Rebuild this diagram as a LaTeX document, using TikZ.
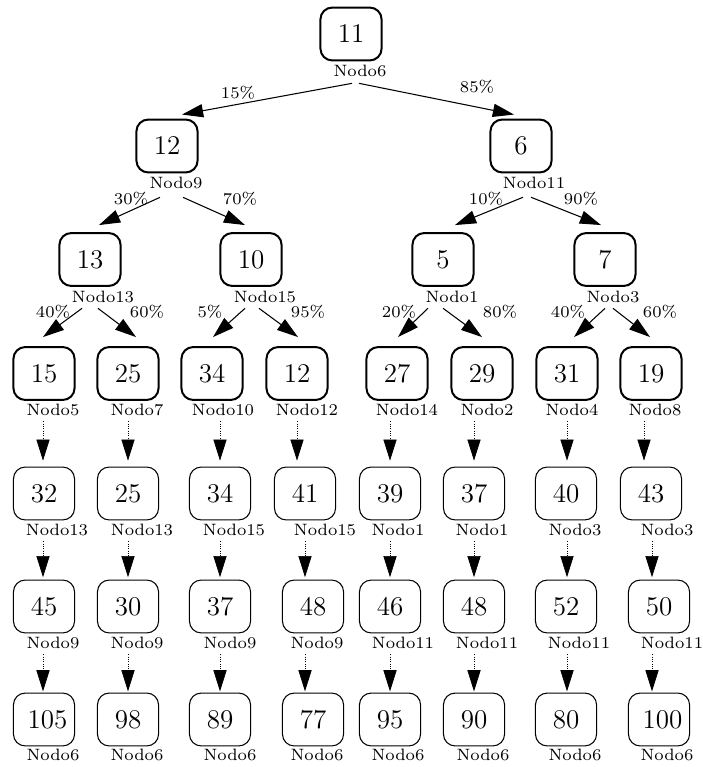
\documentclass[tikz,border=0pt]{standalone}
\usetikzlibrary{arrows.meta,calc}
\newcommand{\numfont}{\fontsize{11.5}{13}\selectfont}
\begin{document}
\begin{tikzpicture}[x=0.4255pt,y=-0.4255pt,
  bigbox/.style={draw, line width=0.85pt, rounded corners=5pt, minimum width=26pt, minimum height=22.5pt, inner sep=0pt, font=\numfont},
  smallbox/.style={bigbox, line width=0.45pt},
  lab/.style={font=\scriptsize, inner sep=0pt},
  pct/.style={font=\scriptsize, inner sep=0pt},
  arr/.style={-{Triangle[length=9pt,width=5.6pt]}, line width=0.45pt},
  darr/.style={arr, line width=0.3pt, dash pattern=on 0.3pt off 0.7pt}]
\useasboundingbox (0,0) rectangle (702,767);
% row 0
\node[bigbox] (n0) at (351,34) {11};
\node[lab] (l0) at (360,71) {Nodo6};
% row 1
\node[bigbox] (n1a) at (167,146) {12};
\node[lab] (l1a) at (176,183) {Nodo9};
\node[bigbox] (n1b) at (521,146) {6\hspace{4pt}};
\node[lab] (l1b) at (534,183) {Nodo11};
% row 2
\node[bigbox] (n2a) at (90,259.5) {13};
\node[lab] (l2a) at (103,297) {Nodo13};
\node[bigbox] (n2b) at (251,259.5) {10};
\node[lab] (l2b) at (265,297) {Nodo15};
\node[bigbox] (n2c) at (443,259.5) {5\hspace{4pt}};
\node[lab] (l2c) at (452,297) {Nodo1};
\node[bigbox] (n2d) at (605,259.5) {7\hspace{4pt}};
\node[lab] (l2d) at (613,297) {Nodo3};
% row 3
\foreach \c/\x/\t/\lx/\lt in {a/44/15/53/Nodo5, b/128/25/137/Nodo7, c/212/34/223/Nodo10, d/297/12/307/Nodo12,
  e/397/27/407/Nodo14, f/482/29/487/Nodo2, g/567/31/572/Nodo4, h/651/19/655/Nodo8} {
  \node[bigbox] (n3\c) at (\x,373.5) {\t};
  \node[lab] (l3\c) at (\lx,410) {\lt};
}
% row 4
\foreach \c/\x/\t/\lx/\lt in {a/44/32/57/Nodo13, b/128/25/142/Nodo13, c/220/34/234/Nodo15, d/305/41/325/Nodo15,
  e/390/39/398/Nodo1, f/474/37/482/Nodo1, g/566/40/575/Nodo3, h/651/43/667/Nodo3} {
  \node[smallbox] (n4\c) at (\x,493.5) {\t};
  \node[lab] (l4\c) at (\lx,530) {\lt};
}
% row 5
\foreach \c/\x/\t/\lx/\lt in {a/44/45/53/Nodo9, b/128/30/137/Nodo9, c/220/37/230/Nodo9, d/313/48/317/Nodo9,
  e/390/46/403/Nodo11, f/474/48/487/Nodo11, g/566/52/579/Nodo11, h/659/50/672/Nodo11} {
  \node[smallbox] (n5\c) at (\x,606.5) {\t};
  \node[lab] (l5\c) at (\lx,643) {\lt};
}
% row 6
\foreach \c/\x/\t/\lx in {a/44/\hspace{3pt}105/53, b/128/98/137, c/220/89/230, d/313/77/317,
  e/390/95/398, f/474/90/483, g/566/80/575, h/659/\hspace{3pt}100/667} {
  \node[smallbox] (n6\c) at (\x,719.5) {\t};
  \node[lab] (l6\c) at (\lx,755) {Nodo6};
}
% solid arrows
\draw[arr] ($(l0.south)+(-8,6)$) -- ($(n1a.north)+(15,-4)$);
\draw[arr] ($(l0.south)+(-1,6)$) -- ($(n1b.north)+(-7,-4)$);
\draw[arr] ($(l1a.south)+(-16,8)$) -- ($(n2a.north)+(9,-7)$);
\draw[arr] ($(l1a.south)+(7,8)$) -- ($(n2b.north)+(-6,-7)$);
\draw[arr] ($(l1b.south)+(-11,8)$) -- ($(n2c.north)+(12,-7)$);
\draw[arr] ($(l1b.south)+(-3,8)$) -- ($(n2d.north)+(-4,-7)$);
\draw[arr] ($(l2a.south)+(-21,5)$) -- ($(n3a.north)+(-1,-9)$);
\draw[arr] ($(l2a.south)+(-5,5)$) -- ($(n3b.north)+(8,-9)$);
\draw[arr] ($(l2b.south)+(-20,5)$) -- ($(n3c.north)+(1,-9)$);
\draw[arr] ($(l2b.south)+(-6,5)$) -- ($(n3d.north)+(1,-9)$);
\draw[arr] ($(l2c.south)+(-24,5)$) -- ($(n3e.north)+(1,-9)$);
\draw[arr] ($(l2c.south)+(-9,5)$) -- ($(n3f.north)+(0,-9)$);
\draw[arr] ($(l2d.south)+(-8,5)$) -- ($(n3g.north)+(7,-9)$);
\draw[arr] ($(l2d.south)+(0,5)$) -- ($(n3h.north)+(-1,-9)$);
% percentages
\node[pct] (p0a) at (238,93) {15\%};
\node[pct] (p0b) at (477,87) {85\%};
\node[pct] (p1a) at (131,199) {30\%};
\node[pct] (p1b) at (240,199) {70\%};
\node[pct] (p1c) at (486,199) {10\%};
\node[pct] (p1d) at (581,199) {90\%};
\node[pct] (p2a) at (53,312) {40\%};
\node[pct] (p2b) at (147,312) {60\%};
\node[pct] (p2c) at (210,312) {5\%};
\node[pct] (p2d) at (308,312) {95\%};
\node[pct] (p2e) at (399,312) {20\%};
\node[pct] (p2f) at (500,312) {80\%};
\node[pct] (p2g) at (568,312) {40\%};
\node[pct] (p2h) at (660,312) {60\%};
% dotted arrows
\foreach \c/\dx in {a/-10,b/-9,c/-3,d/-10,e/-17,f/-13,g/-5,h/-11} {
  \coordinate (s3\c) at ($(l3\c.south)+(\dx,5)$);
  \draw[darr, shorten >=2.5pt] (s3\c) -- (s3\c |- n4\c.north);
}
\foreach \c/\dx in {a/-14,b/-14,c/-14,d/-20,e/-8,f/-8,g/-8,h/-15} {
  \coordinate (s4\c) at ($(l4\c.south)+(\dx,5)$);
  \draw[darr, shorten >=1pt] (s4\c) -- (s4\c |- n5\c.north);
}
\foreach \c/\dx in {a/-10,b/-9,c/-10,d/-12,e/-13,f/-13,g/-12,h/-20} {
  \coordinate (s5\c) at ($(l5\c.south)+(\dx,5)$);
  \draw[darr, shorten >=0.5pt] (s5\c) -- (s5\c |- n6\c.north);
}
\end{tikzpicture}
\end{document}
